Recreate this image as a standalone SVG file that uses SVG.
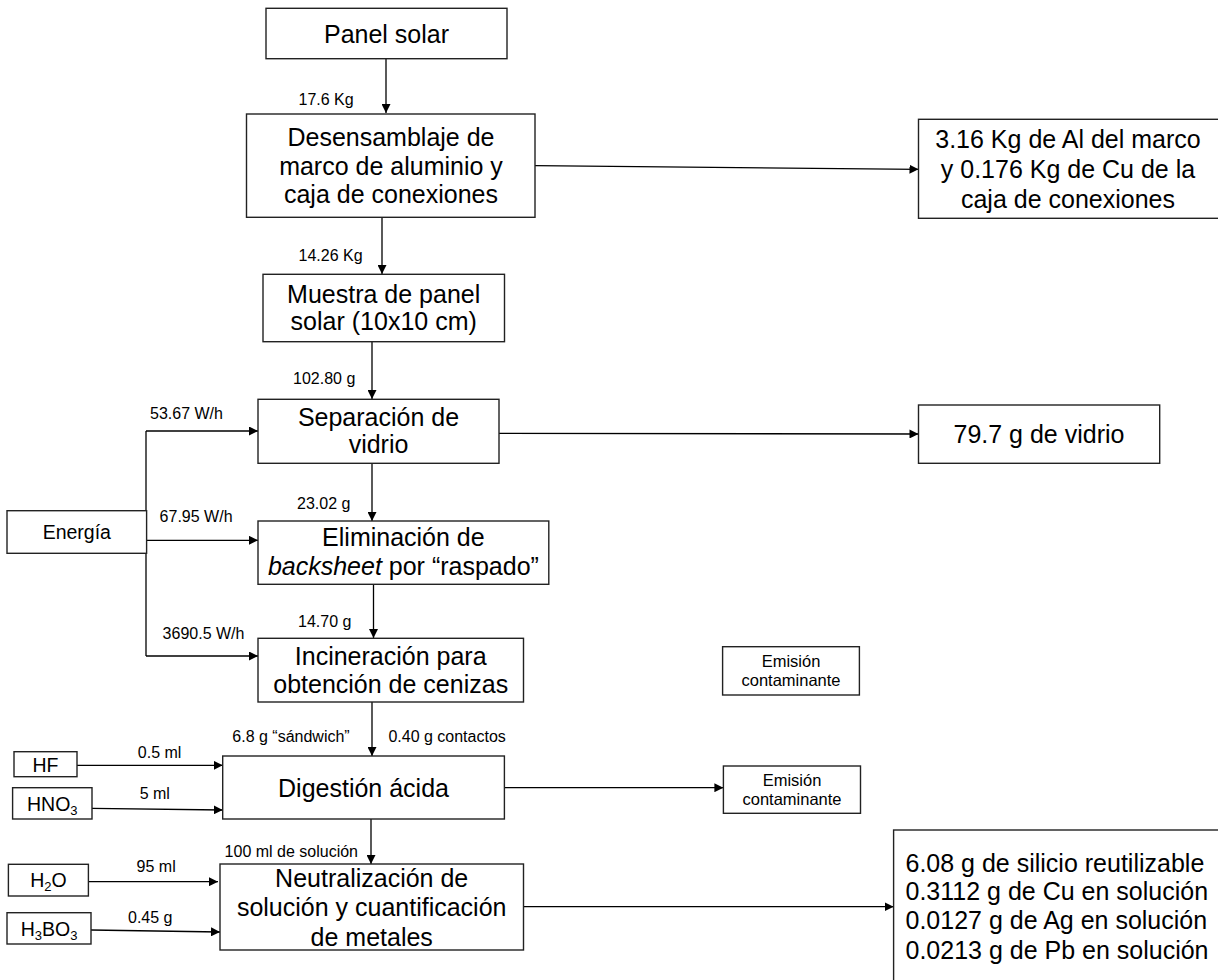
<svg xmlns="http://www.w3.org/2000/svg" width="1218" height="980" viewBox="0 0 1218 980">
<style>
.box{fill:#fff;stroke:#222;stroke-width:1.4}
.t{font-family:"Liberation Sans",Arial,sans-serif;font-size:25px;fill:#000;text-anchor:middle}
.l{font-family:"Liberation Sans",Arial,sans-serif;font-size:16px;fill:#000}
.m{font-family:"Liberation Sans",Arial,sans-serif;font-size:19.5px;fill:#000;text-anchor:middle}
.s{font-family:"Liberation Sans",Arial,sans-serif;font-size:16.5px;fill:#000;text-anchor:middle}
.c{fill:none;stroke:#000;stroke-width:1.3}
</style>
<defs>
<marker id="ah" markerUnits="userSpaceOnUse" markerWidth="10" markerHeight="9" refX="9" refY="4.5" orient="auto">
<path d="M0,0 L9,4.5 L0,9 Z" fill="#000"/>
</marker>
</defs>
<rect width="1218" height="980" fill="#fff"/>
<g id="connectors">
<line class="c" x1="386" y1="59" x2="386" y2="113" marker-end="url(#ah)"/>
<line class="c" x1="382" y1="217" x2="382" y2="274" marker-end="url(#ah)"/>
<line class="c" x1="372" y1="342" x2="372" y2="399" marker-end="url(#ah)"/>
<line class="c" x1="372" y1="463" x2="372" y2="521" marker-end="url(#ah)"/>
<line class="c" x1="373.5" y1="584" x2="373.5" y2="638" marker-end="url(#ah)"/>
<line class="c" x1="372" y1="702" x2="372" y2="756" marker-end="url(#ah)"/>
<line class="c" x1="371" y1="819" x2="371" y2="864" marker-end="url(#ah)"/>
<line class="c" x1="535" y1="165.7" x2="918.5" y2="169.3" marker-end="url(#ah)"/>
<line class="c" x1="499" y1="433.3" x2="918.5" y2="434" marker-end="url(#ah)"/>
<line class="c" x1="504.4" y1="787.7" x2="723.4" y2="787.7" marker-end="url(#ah)"/>
<line class="c" x1="523.5" y1="906.7" x2="893.6" y2="906.7" marker-end="url(#ah)"/>
<path class="c" d="M146,656 L146,431"/>
<line class="c" x1="146" y1="431" x2="258" y2="431" marker-end="url(#ah)"/>
<line class="c" x1="146.6" y1="540.3" x2="258" y2="540.3" marker-end="url(#ah)"/>
<line class="c" x1="146" y1="656" x2="258" y2="656" marker-end="url(#ah)"/>
<line class="c" x1="77" y1="765.3" x2="222.7" y2="765.3" marker-end="url(#ah)"/>
<line class="c" x1="92" y1="808.3" x2="222.7" y2="810" marker-end="url(#ah)"/>
<line class="c" x1="88.4" y1="881.7" x2="218" y2="881.7" marker-end="url(#ah)"/>
<line class="c" x1="91" y1="930" x2="220" y2="932" marker-end="url(#ah)"/>
<text class="l" x="298.5" y="105">17.6 Kg</text>
<text class="l" x="298.5" y="260.7">14.26 Kg</text>
<text class="l" x="293" y="384.3">102.80 g</text>
<text class="l" x="297" y="509">23.02 g</text>
<text class="l" x="298" y="627.3">14.70 g</text>
<text class="l" x="150" y="419">53.67 W/h</text>
<text class="l" x="159.6" y="521.7">67.95 W/h</text>
<text class="l" x="162.6" y="639.3">3690.5 W/h</text>
<text class="l" x="232.3" y="742.3">6.8 g “sándwich”</text>
<text class="l" x="388.4" y="742.3">0.40 g contactos</text>
<text class="l" x="137.8" y="757.7">0.5 ml</text>
<text class="l" x="139.7" y="799">5 ml</text>
<text class="l" x="224.6" y="856.7">100 ml de solución</text>
<text class="l" x="136.6" y="871.7">95 ml</text>
<text class="l" x="128" y="922.7">0.45 g</text>
</g>
<g id="panel-solar">
<rect class="box" x="266" y="8.3" width="241" height="50.4"/>
<text class="t" x="386.5" y="42.7">Panel solar</text>
</g>
<g id="desensamblaje">
<rect class="box" x="246.5" y="114" width="288.5" height="103.3"/>
<text class="t" x="391" y="145.5">Desensamblaje de</text>
<text class="t" x="391" y="175">marco de aluminio y</text>
<text class="t" x="391" y="203.3">caja de conexiones</text>
</g>
<g id="al-cu">
<rect class="box" x="918.5" y="119.3" width="310" height="99"/>
<text class="t" x="1068" y="148.3">3.16 Kg de Al del marco</text>
<text class="t" x="1068" y="178.3">y 0.176 Kg de Cu de la</text>
<text class="t" x="1068" y="208.3">caja de conexiones</text>
</g>
<g id="muestra">
<rect class="box" x="263" y="274.3" width="241.5" height="67.4"/>
<text class="t" x="383.7" y="302.7">Muestra de panel</text>
<text class="t" x="383.7" y="330">solar (10x10 cm)</text>
</g>
<g id="separacion">
<rect class="box" x="258" y="399.3" width="241" height="64"/>
<text class="t" x="378.5" y="426">Separación de</text>
<text class="t" x="378.5" y="453.3">vidrio</text>
</g>
<g id="vidrio">
<rect class="box" x="918.5" y="405" width="241.2" height="58.3"/>
<text class="t" x="1039" y="442.7">79.7 g de vidrio</text>
</g>
<g id="energia">
<rect class="box" x="7" y="510.7" width="139.6" height="42.6"/>
<text class="m" x="76.8" y="539.3">Energía</text>
</g>
<g id="eliminacion">
<rect class="box" x="258" y="521" width="290.8" height="63.3"/>
<text class="t" x="403.4" y="545.7">Eliminación de</text>
<text class="t" x="403.4" y="575"><tspan font-style="italic">backsheet</tspan> por “raspado”</text>
</g>
<g id="incineracion">
<rect class="box" x="258" y="638.3" width="265.5" height="63.7"/>
<text class="t" x="390.7" y="665">Incineración para</text>
<text class="t" x="390.7" y="693.3">obtención de cenizas</text>
</g>
<g id="emision-1">
<rect class="box" x="722.6" y="646.7" width="136.8" height="48.3"/>
<text class="s" x="791" y="666.7">Emisión</text>
<text class="s" x="791" y="686">contaminante</text>
</g>
<g id="hf">
<rect class="box" x="14" y="751.7" width="63" height="25"/>
<text class="m" x="45.5" y="771.7">HF</text>
</g>
<g id="hno3">
<rect class="box" x="12.6" y="787.7" width="79.4" height="31.3"/>
<text class="m" x="52.3" y="811">HNO<tspan font-size="13" dy="4">3</tspan></text>
</g>
<g id="digestion">
<rect class="box" x="222.7" y="756" width="281.7" height="63"/>
<text class="t" x="363.5" y="796.7">Digestión ácida</text>
</g>
<g id="emision-2">
<rect class="box" x="723.4" y="766" width="137.1" height="47.3"/>
<text class="s" x="792" y="786">Emisión</text>
<text class="s" x="792" y="805">contaminante</text>
</g>
<g id="h2o">
<rect class="box" x="8.4" y="864.3" width="80" height="31.7"/>
<text class="m" x="48.4" y="887.3">H<tspan font-size="13" dy="4">2</tspan><tspan dy="-4">O</tspan></text>
</g>
<g id="h3bo3">
<rect class="box" x="7" y="912.7" width="84" height="31.3"/>
<text class="m" x="49" y="936">H<tspan font-size="13" dy="4">3</tspan><tspan dy="-4">BO</tspan><tspan font-size="13" dy="4">3</tspan></text>
</g>
<g id="neutralizacion">
<rect class="box" x="220" y="864" width="303.5" height="86"/>
<text class="t" x="371.7" y="886.7">Neutralización de</text>
<text class="t" x="371.7" y="916">solución y cuantificación</text>
<text class="t" x="371.7" y="946">de metales</text>
</g>
<g id="resultados">
<rect class="box" x="893.6" y="830" width="340" height="170"/>
<text class="t" x="905.5" y="871.7" style="text-anchor:start">6.08 g de silicio reutilizable</text>
<text class="t" x="905.5" y="900.3" style="text-anchor:start">0.3112 g de Cu en solución</text>
<text class="t" x="905.5" y="928.8" style="text-anchor:start">0.0127 g de Ag en solución</text>
<text class="t" x="905.5" y="959" style="text-anchor:start">0.0213 g de Pb en solución</text>
</g>
</svg>
